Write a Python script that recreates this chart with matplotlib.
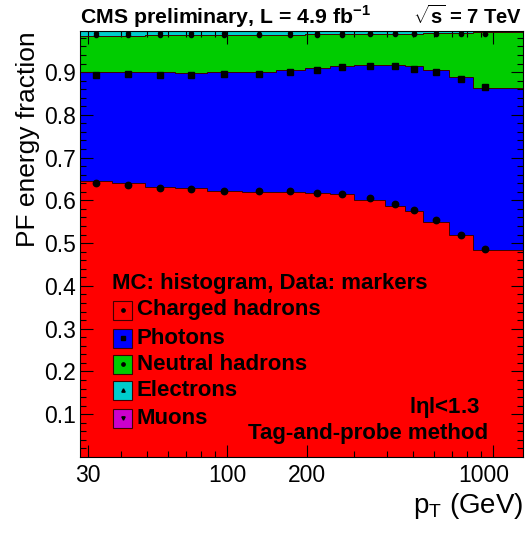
import numpy as np
import matplotlib
matplotlib.use('Agg')
import matplotlib.pyplot as plt
from matplotlib.patches import Rectangle
from matplotlib.transforms import ScaledTranslation

plt.rcParams['font.family'] = ['Liberation Sans', 'DejaVu Sans']
plt.rcParams['mathtext.fontset'] = 'custom'
plt.rcParams['mathtext.rm'] = 'Liberation Sans'
plt.rcParams['mathtext.bf'] = 'Liberation Sans:bold'

# pT bin edges (GeV)
edges = [28, 37, 49, 64, 84, 114, 153, 196, 245, 300, 395, 468, 548, 686, 846, 1032, 1327]

# MC fractions per bin (histogram)
mc_charged = [0.646, 0.640, 0.632, 0.628, 0.623, 0.620, 0.620, 0.617, 0.614, 0.601, 0.588, 0.574, 0.550, 0.518, 0.484, 0.484]
mc_photons = [0.255, 0.260, 0.267, 0.270, 0.276, 0.281, 0.284, 0.292, 0.299, 0.316, 0.329, 0.339, 0.355, 0.370, 0.378, 0.378]
mc_neutral = [0.084, 0.085, 0.087, 0.088, 0.087, 0.086, 0.083, 0.079, 0.075, 0.072, 0.073, 0.077, 0.086, 0.104, 0.131, 0.131]
mc_electrons = [0.010, 0.010, 0.009, 0.009, 0.009, 0.008, 0.008, 0.008, 0.008, 0.007, 0.007, 0.007, 0.006, 0.005, 0.004, 0.004]
mc_muons = [0.005, 0.005, 0.005, 0.005, 0.005, 0.005, 0.005, 0.004, 0.004, 0.004, 0.003, 0.003, 0.003, 0.003, 0.003, 0.003]

# data fractions per bin (markers), no data in last bin
data_charged = [0.640, 0.637, 0.630, 0.627, 0.621, 0.621, 0.621, 0.618, 0.614, 0.606, 0.592, 0.577, 0.554, 0.519, 0.486]
data_photons = [0.254, 0.259, 0.264, 0.267, 0.275, 0.275, 0.278, 0.287, 0.297, 0.309, 0.321, 0.330, 0.345, 0.365, 0.378]
data_neutral = [0.092, 0.090, 0.092, 0.092, 0.090, 0.090, 0.088, 0.082, 0.076, 0.073, 0.076, 0.082, 0.090, 0.106, 0.125]
data_electrons = [0.009, 0.009, 0.009, 0.009, 0.009, 0.008, 0.008, 0.008, 0.008, 0.007, 0.007, 0.007, 0.006, 0.005, 0.005]
data_muons = [0.005, 0.005, 0.005, 0.005, 0.005, 0.006, 0.005, 0.005, 0.005, 0.005, 0.004, 0.004, 0.005, 0.005, 0.006]

names = ['Charged hadrons', 'Photons', 'Neutral hadrons', 'Electrons', 'Muons']
colors = ['#ff0000', '#0000ff', '#00cc00', '#00cccc', '#cc00cc']
markers = ['o', 's', 'o', '^', 'v']
msizes = [4.6, 4.4, 3.0, 3.2, 3.2]

edges = np.array(edges)
mc = np.cumsum([mc_charged, mc_photons, mc_neutral, mc_electrons, mc_muons], axis=0)
data = np.cumsum([data_charged, data_photons, data_neutral, data_electrons, data_muons], axis=0)
centers = np.sqrt(edges[:-1] * edges[1:])[:len(data_charged)]

fig = plt.figure(figsize=(5.25, 5.36), dpi=100)
ax = fig.add_axes([80 / 525, 79 / 536, 443 / 525, 426 / 536])

base = np.zeros(len(edges) - 1)
for i in range(5):
    ax.stairs(mc[i], edges, baseline=base, fill=True, color=colors[i], zorder=1)
    ax.stairs(mc[i], edges, baseline=None, color='#400000', lw=0.7, zorder=2)
    base = mc[i]

for i in range(5):
    ax.plot(centers, data[i], ls='none', marker=markers[i], ms=msizes[i],
            color='black', zorder=3, clip_on=True)

ax.set_xscale('log')
ax.set_xlim(28, 1300)
ax.set_ylim(0, 0.996)

ax.set_xticks([30, 100, 200, 1000])
ax.set_xticklabels(['30', '100', '200', '1000'])
ax.set_xticks([40, 50, 60, 70, 80, 90, 300, 400, 500, 600, 700, 800, 900], minor=True)
ax.xaxis.set_minor_formatter(matplotlib.ticker.NullFormatter())
ax.set_yticks(np.arange(0.1, 0.95, 0.1))
ax.set_yticklabels(['0.1', '0.2', '0.3', '0.4', '0.5', '0.6', '0.7', '0.8', '0.9'])
ax.set_yticks(np.arange(0.02, 0.995, 0.02), minor=True)
ax.tick_params(which='both', direction='in', top=True, right=True, labelsize=16.5, width=0.8)
ax.tick_params(which='major', length=9)
ax.tick_params(which='minor', length=4.5)
ax.tick_params(axis='x', pad=5)
ax.tick_params(axis='y', pad=3)
lab = ax.get_xticklabels()[-1]
lab.set_transform(lab.get_transform() + ScaledTranslation(-9 / 100, 0, fig.dpi_scale_trans))
for s in ax.spines.values():
    s.set_linewidth(0.8)

ax.set_ylabel('PF energy fraction', fontsize=19, loc='top', labelpad=3)
ax.set_xlabel(r'p$_\mathrm{T}$ (GeV)', fontsize=20, loc='right', labelpad=3)

fig.text(80 / 525, 1 - 24 / 536, r'CMS preliminary, L = 4.9 fb$^\mathbf{-1}$', fontsize=15.3,
         fontweight='bold', ha='left', va='baseline')
fig.text(522 / 525, 1 - 24 / 536, r'$\sqrt{\mathbf{s}}$ = 7 TeV', fontsize=14.5,
         fontweight='bold', ha='right', va='baseline')

# legend drawn in pixel positions
def px(x, y):
    return ((x - 80) / 443, (457 - y) / 426)

ax.text(*px(112, 283), 'MC: histogram, Data: markers', transform=ax.transAxes,
        fontsize=16, fontweight='bold', va='center', ha='left', zorder=5)
rows = [310, 338, 364, 390, 418]
for i in range(5):
    x0, y0 = px(113, rows[i] + 9.5)
    ax.add_patch(Rectangle((x0, y0), 19 / 443, 19 / 426, transform=ax.transAxes,
                           facecolor=colors[i], edgecolor='#400000', lw=0.8, zorder=5))
    ax.plot(*px(122.5, rows[i]), marker=markers[i], ms=2.4, color='black',
            transform=ax.transAxes, zorder=6)
    ax.text(*px(137, rows[i]), names[i], transform=ax.transAxes, fontsize=16,
            fontweight='bold', va='center', ha='left', zorder=5)

ax.text(*px(480, 408), r'l$\mathbf{\eta}$l<1.3', transform=ax.transAxes, fontsize=16,
        fontweight='bold', va='center', ha='right', zorder=5)
ax.text(*px(488, 434), 'Tag-and-probe method', transform=ax.transAxes, fontsize=16,
        fontweight='bold', va='center', ha='right', zorder=5)

fig.savefig('out.png', dpi=100)
